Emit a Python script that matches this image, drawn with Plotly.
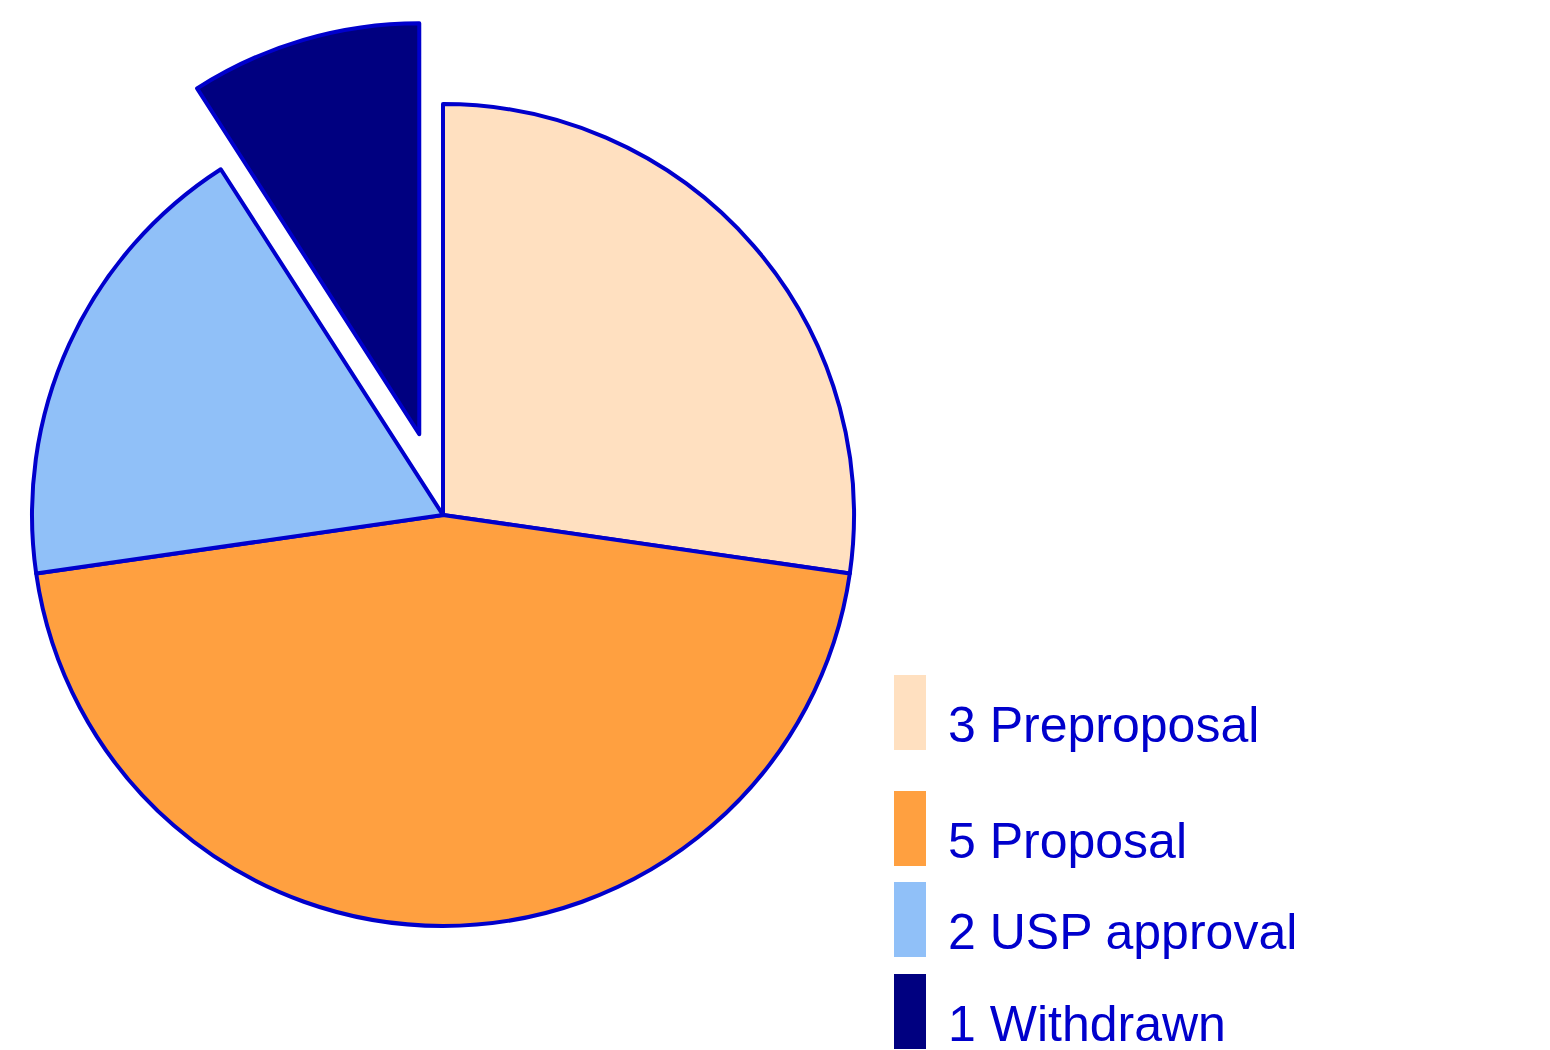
import math
import plotly.graph_objects as go

# ---- data ----
labels = ["Preproposal", "Proposal", "USP approval", "Withdrawn"]
values = [3, 5, 2, 1]
colors = ["#FFE0C0", "#FFA040", "#90C0F8", "#000080"]
pulled_label = "Withdrawn"
pull_fraction = 0.205

# ---- layout constants (figure pixel coordinates) ----
W, H = 1550, 1050
OFF = 8            # page offset of the figure inside the browser
border = "#0000CC"
text_color = "#0000CC"
R = 411            # pie radius in px
CX, CY = 443 - OFF, 515 - OFF  # pie centre

total = sum(values)
idx = labels.index(pulled_label)
start_frac = sum(values[:idx]) / total
end_frac = sum(values[:idx + 1]) / total
start_deg = start_frac * 360.0
mid_deg = (start_frac + end_frac) / 2 * 360.0

d = pull_fraction * R
PCX = CX + d * math.sin(math.radians(mid_deg))
PCY = CY - d * math.cos(math.radians(mid_deg))


def domain(cx, cy, r):
    return dict(x=[max(0, (cx - r) / W), min(1, (cx + r) / W)],
                y=[max(0, (H - cy - r) / H), min(1, (H - cy + r) / H)])


fig = go.Figure()

# main pie, pulled slice left empty
main_colors = [c if l != pulled_label else "rgba(0,0,0,0)" for l, c in zip(labels, colors)]
main_lines = [border if l != pulled_label else "rgba(0,0,0,0)" for l in labels]
fig.add_trace(go.Pie(
    labels=labels, values=values, sort=False, direction="clockwise", rotation=0,
    marker=dict(colors=main_colors, line=dict(color=main_lines, width=4)),
    textinfo="none", hoverinfo="label+value", showlegend=False,
    domain=domain(CX, CY, R),
))

# pulled slice drawn separately with its offset centre
rest = total - values[idx]
fig.add_trace(go.Pie(
    labels=[pulled_label, "rest"], values=[values[idx], rest], sort=False,
    direction="clockwise", rotation=start_deg - 360,
    marker=dict(colors=[colors[idx], "rgba(0,0,0,0)"],
                line=dict(color=[border, "rgba(0,0,0,0)"], width=4)),
    textinfo="none", hoverinfo="skip", showlegend=False,
    domain=domain(PCX, PCY, R),
))

# ---- custom legend ----
row_tops = [675 - OFF, 791 - OFF, 882 - OFF, 974 - OFF]
sw_x0, sw_w, sw_h = 894 - OFF, 32, 75
text_x = 946 - OFF
shapes, annotations = [], []
for lab, val, col, top in zip(labels, values, colors, row_tops):
    shapes.append(dict(type="rect", xref="paper", yref="paper",
                       x0=sw_x0 / W, x1=(sw_x0 + sw_w) / W,
                       y0=1 - (top + sw_h) / H, y1=1 - top / H,
                       fillcolor=col, line=dict(width=0)))
    annotations.append(dict(xref="paper", yref="paper", x=text_x / W,
                            y=1 - (top + sw_h / 2 + 12) / H,
                            xanchor="left", yanchor="middle", showarrow=False,
                            text=f"{val} {lab}",
                            font=dict(family="Liberation Sans, Arial", size=50,
                                      color=text_color)))

fig.update_layout(
    width=W, height=H, margin=dict(l=0, r=0, t=0, b=0),
    paper_bgcolor="white", plot_bgcolor="white",
    shapes=shapes, annotations=annotations, showlegend=False,
)

fig.write_html("out.html")
